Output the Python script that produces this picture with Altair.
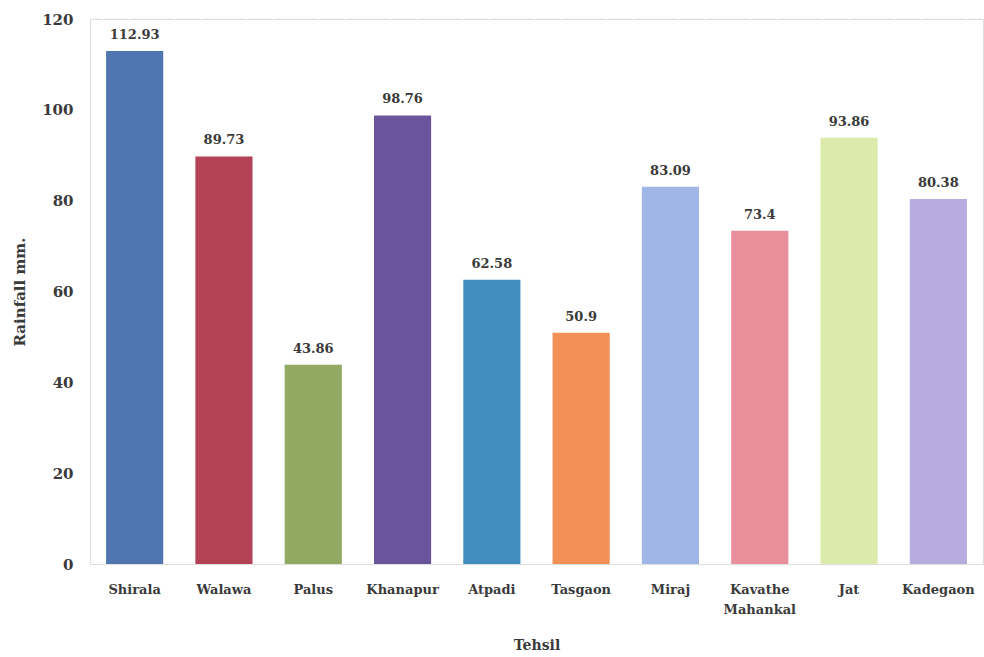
import altair as alt
import pandas as pd

tehsils = ["Shirala", "Walawa", "Palus", "Khanapur", "Atpadi", "Tasgaon",
           "Miraj", "Kavathe Mahankal", "Jat", "Kadegaon"]
rainfall = [112.93, 89.73, 43.86, 98.76, 62.58, 50.9, 83.09, 73.4, 93.86, 80.38]
bar_colors = ["#4a72b0", "#b03c4e", "#8ea65c", "#65509a", "#3a8bbd", "#f28c50",
              "#9db4e6", "#e88b98", "#dbeaa8", "#b4a9de"]
y_ticks = [0, 20, 40, 60, 80, 100, 120]

df = pd.DataFrame({"Tehsil": tehsils, "Rainfall": rainfall})

FONT = "DejaVu Serif"
TEXT = "#3a3a3a"

x_enc = alt.X(
    "Tehsil:N", sort=tehsils,
    scale=alt.Scale(paddingInner=0.36, paddingOuter=0.18),
    axis=alt.Axis(
        title="Tehsil", labelAngle=0, ticks=False, domain=False,
        labelExpr="split(datum.label, ' ')[0] == 'Kavathe' ? ['Kavathe', 'Mahankal'] : datum.label",
        labelFont=FONT, labelFontSize=13, labelFontWeight="bold", labelColor=TEXT,
        labelPadding=19, labelLineHeight=20,
        titleFont=FONT, titleFontSize=14, titleFontWeight="bold", titleColor=TEXT,
        titlePadding=22,
    ),
)
y_scale = alt.Scale(domain=[0, 120], nice=False)

bars = alt.Chart(df).mark_bar(opacity=0.97).encode(
    x=x_enc,
    y=alt.Y(
        "Rainfall:Q", scale=y_scale,
        axis=alt.Axis(
            title="Rainfall mm.", values=y_ticks, grid=False, ticks=False,
            domain=True, domainColor="#dddddd", domainDash=[2, 3],
            labelFont=FONT, labelFontSize=15, labelFontWeight="bold", labelColor=TEXT,
            labelPadding=17,
            titleFont=FONT, titleFontSize=15, titleFontWeight="bold", titleColor=TEXT,
            titlePadding=14,
        ),
    ),
    color=alt.Color("Tehsil:N", sort=tehsils,
                    scale=alt.Scale(domain=tehsils, range=bar_colors), legend=None),
)

labels = alt.Chart(df).mark_text(
    font=FONT, fontSize=13, fontWeight="bold", color=TEXT, dy=-16, baseline="middle"
).encode(
    x=alt.X("Tehsil:N", sort=tehsils),
    y=alt.Y("Rainfall:Q", scale=y_scale),
    text=alt.Text("Rainfall:Q"),
)

top_line = alt.Chart(pd.DataFrame({"y": [120]})).mark_rule(
    color="#e4e4e4", strokeDash=[6, 3], strokeWidth=1
).encode(y=alt.Y("y:Q", scale=y_scale))

chart = alt.layer(top_line, bars, labels).properties(
    width=893, height=545,
    autosize=alt.AutoSizeParams(type="none"),
    padding={"left": 90, "top": 19, "right": 1, "bottom": 93},
).configure_view(stroke=None).configure(background="white")

chart.save("out.html", embed_options={"renderer": "svg", "actions": False})
